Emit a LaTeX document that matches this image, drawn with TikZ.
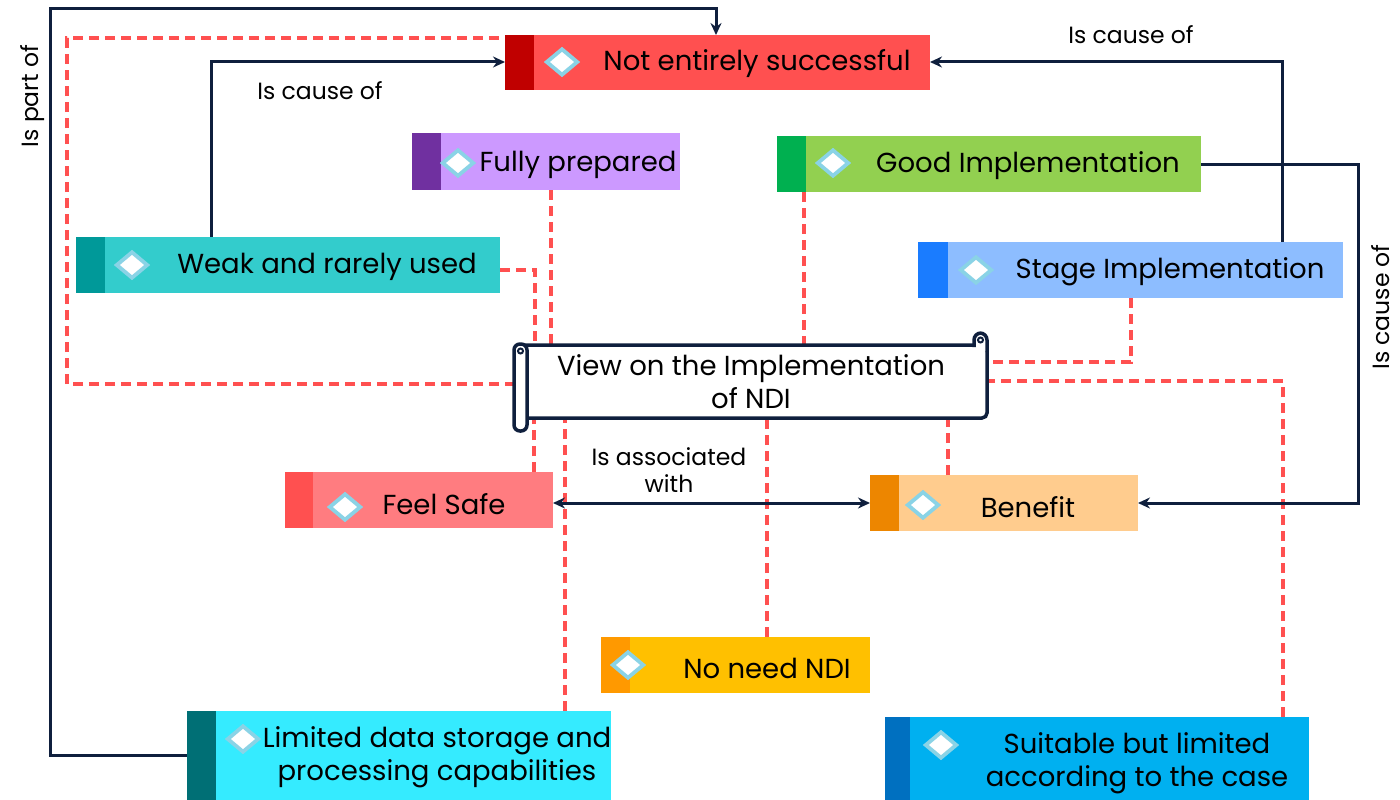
\documentclass[tikz,border=0pt]{standalone}
\usepackage{fontspec}
\setmainfont{Poppins}
\usetikzlibrary{shapes.geometric,arrows.meta}

\definecolor{navy}{HTML}{0F1F3D}
\definecolor{dashred}{HTML}{FF5050}
\definecolor{gemedge}{HTML}{8AD3E6}
\definecolor{neS}{HTML}{C00000}\definecolor{neF}{HTML}{FF5050}
\definecolor{fpS}{HTML}{7030A0}\definecolor{fpF}{HTML}{CC99FF}
\definecolor{giS}{HTML}{00B050}\definecolor{giF}{HTML}{92D050}
\definecolor{wrS}{HTML}{009999}\definecolor{wrF}{HTML}{33CCCC}
\definecolor{siS}{HTML}{1A7CFF}\definecolor{siF}{HTML}{8DBDFF}
\definecolor{fsS}{HTML}{FF5050}\definecolor{fsF}{HTML}{FF7C80}
\definecolor{bnS}{HTML}{ED8600}\definecolor{bnF}{HTML}{FFCC8E}
\definecolor{nnS}{HTML}{FF9900}\definecolor{nnF}{HTML}{FFC000}
\definecolor{ldS}{HTML}{006F75}\definecolor{ldF}{HTML}{35EBFF}
\definecolor{slS}{HTML}{0070C0}\definecolor{slF}{HTML}{00B0F0}

% coloured category box with a darker strip on its left side
\newcommand\catbox[7]{%
  \node[cbox, fill=#7, minimum width=#3pt, minimum height=#4pt] (#1) at (#2) {};
  \fill[#6] (#1.north west) rectangle ([xshift=#5pt]#1.south west);}

\tikzset{
  cbox/.style={rectangle, inner sep=0pt, outer sep=0pt, anchor=north west},
  gem/.style={diamond, draw=gemedge, fill=white, line width=3.8pt,
    minimum width=32pt, minimum height=27pt, inner sep=0pt},
  boxtext/.style={font=\fontsize{27.5}{33}\selectfont, inner sep=0pt, align=center},
  linklabel/.style={font=\fontsize{23.5}{27}\selectfont, inner sep=0pt, align=center},
  link/.style={draw=navy, line width=3pt, -{Stealth[length=12pt,width=11pt]}},
  twolink/.style={draw=navy, line width=3pt,
    {Stealth[length=12pt,width=11pt]}-{Stealth[length=12pt,width=11pt]}},
  tie/.style={draw=dashred, line width=4pt, dash pattern=on 10pt off 6pt},
  scrollline/.style={draw=navy, line width=3.5pt, fill=white},
}

\begin{document}
\begin{tikzpicture}[x=1pt,y=-1pt]
\useasboundingbox[fill=white] (0,0) rectangle (1400,800);

% ---- category boxes
\catbox{ne}{505,35}{425}{55}{29}{neS}{neF}
\catbox{fp}{412,133}{268}{57}{29}{fpS}{fpF}
\catbox{gi}{777,136}{424}{56}{29}{giS}{giF}
\catbox{wr}{76,237}{424}{56}{29}{wrS}{wrF}
\catbox{si}{918,242}{425}{56}{30}{siS}{siF}
\catbox{fs}{285,472}{268}{56}{28}{fsS}{fsF}
\catbox{bn}{870,475}{268}{56}{29}{bnS}{bnF}
\catbox{nn}{601,637}{269}{56}{29}{nnS}{nnF}
\catbox{ld}{187,711}{424}{89}{29}{ldS}{ldF}
\catbox{sl}{885,717}{424}{83}{25}{slS}{slF}

% central node area (shape drawn later)
\node[rectangle, inner sep=0pt, outer sep=0pt, minimum width=473pt, minimum height=73pt]
  (view) at (751.5,381.5) {};

% ---- guide coordinates for the routed connectors
\coordinate (p1) at (50,9);
\coordinate (p2) at (716,9);
\coordinate (q1) at (211,62);
\coordinate (q2) at (1282,62);
\coordinate (q3) at (1358,0);
\coordinate (d1) at (535,270);
\coordinate (d2) at (551,0);
\coordinate (d3) at (804,0);
\coordinate (d4) at (1131,362);
\coordinate (d5) at (1283,381);
\coordinate (d6) at (948,0);
\coordinate (d7) at (767,0);
\coordinate (d8) at (565,0);
\coordinate (d9) at (534,0);
\coordinate (d10) at (67,384);
\coordinate (d11) at (67,38);

% ---- dashed links to the central node
\draw[tie] (wr.east |- d1) -- (d1) -- (d1 |- view.north);
\draw[tie] (d2 |- fp.south) -- (d2 |- view.north);
\draw[tie] (d3 |- gi.south) -- (d3 |- view.north);
\draw[tie] (d4 |- si.south) -- (d4) -- (d4 -| view.east);
\draw[tie] (d5 |- sl.north) -- (d5) -- (d5 -| view.east);
\draw[tie] (d6 |- bn.north) -- (d6 |- view.south);
\draw[tie] (d7 |- nn.north) -- (d7 |- view.south);
\draw[tie] (d8 |- ld.north) -- (d8 |- view.south);
\draw[tie] (d9 |- fs.north) -- (d9 |- view.south);
\draw[tie] (view.west |- d10) -- (d10) -- (d11) -- (d11 -| ne.west);

% ---- solid relations
\draw[link] (ld.west) -| (p1) -- (p2) -- (p2 |- ne.north);
\draw[link] (q1 |- wr.north) -- (q1) -- (ne.west |- q1);
\draw[link] (q2 |- si.north) -- (q2) -- (ne.east |- q2);
\draw[link] (gi.east) -- (gi.east -| q3) -- (q3 |- bn.east) -- (bn.east);
\draw[twolink] (bn.west -| fs.east) -- (bn.west);

% ---- scroll shaped central node
\filldraw[scrollline, rounded corners=5pt] (520,345) rectangle (987,418);
\filldraw[scrollline, rounded corners=7pt] (974,347) -- (974,333) -- (987,333) -- (987,352);
\draw[draw=navy, line width=2pt] (980.5,340) circle[radius=2.5pt];
\filldraw[scrollline, rounded corners=6pt] (514,344) rectangle (527,431);
\draw[draw=navy, line width=2pt] (520.5,351) circle[radius=2.5pt];
\node[boxtext] (viewtxt) at (751,382) {View on the Implementation\\of NDI};

% ---- diamond markers
\node[gem] (g1) at (562,62) {};
\node[gem] (g2) at (458,163) {};
\node[gem] (g3) at (833,163) {};
\node[gem] (g4) at (132,265) {};
\node[gem] (g5) at (976,270) {};
\node[gem] (g6) at (345,507) {};
\node[gem] (g7) at (923,505) {};
\node[gem] (g8) at (628,665) {};
\node[gem] (g9) at (243,739) {};
\node[gem] (g10) at (941,745) {};

% ---- box texts
\node[boxtext] (t1) at (757,64) {Not entirely successful};
\node[boxtext] (t2) at (578,165) {Fully prepared};
\node[boxtext] (t3) at (1028,166) {Good Implementation};
\node[boxtext] (t4) at (327,267) {Weak and rarely used};
\node[boxtext] (t5) at (1170,272) {Stage Implementation};
\node[boxtext] (t6) at (444,504) {Feel Safe};
\node[boxtext] (t7) at (1028,507) {Benefit};
\node[boxtext] (t8) at (767,668) {No need NDI};
\node[boxtext] (t9) at (437,757) {Limited data storage and\\processing capabilities};
\node[boxtext] (t10) at (1137,763) {Suitable but limited\\according to the case};

% ---- relation labels
\node[linklabel, rotate=90] (l1) at (33,96) {Is part of};
\node[linklabel] (l2) at (320,91) {Is cause of};
\node[linklabel] (l3) at (1131,35) {Is cause of};
\node[linklabel, rotate=90] (l4) at (1381,307) {Is cause of};
\node[linklabel] (l5) at (669,470) {Is associated\\with};
\end{tikzpicture}
\end{document}
